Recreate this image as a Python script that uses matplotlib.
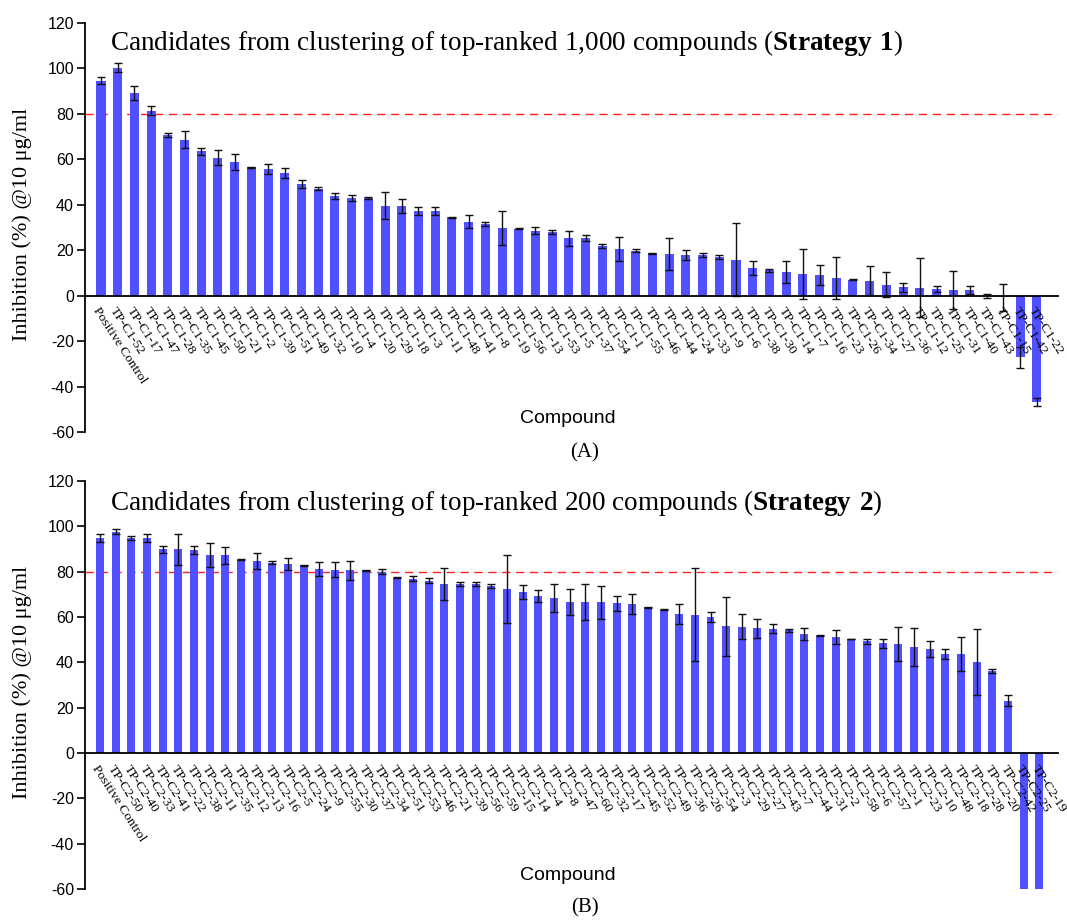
import numpy as np
import matplotlib
matplotlib.use("Agg")
import matplotlib.pyplot as plt

plt.rcParams['mathtext.fontset'] = 'custom'
plt.rcParams['mathtext.rm'] = 'Liberation Serif'
plt.rcParams['mathtext.bf'] = 'Liberation Serif:bold'

# ---------------- data ----------------
labels1 = ["Positive Control"] + ["TP-C1-%d" % n for n in [
    52, 17, 47, 28, 35, 45, 50, 21, 2, 39, 51, 49, 32, 10, 4, 20, 29, 18, 3, 11,
    48, 41, 8, 19, 56, 13, 53, 5, 37, 54, 1, 55, 46, 44, 24, 33, 9, 6, 38, 30,
    14, 7, 16, 23, 26, 34, 27, 36, 12, 25, 31, 40, 43, 15, 42, 22]]
vals1 = [94.6, 100.4, 89.2, 81.4, 70.9, 68.7, 63.6, 60.7, 58.8, 56.6,
         55.7, 54.2, 49.1, 47.1, 43.9, 43.0, 43.0, 39.6, 39.5, 37.3,
         37.3, 34.5, 32.6, 31.6, 29.7, 29.5, 28.5, 27.9,
         25.3, 25.3, 21.8, 20.5, 19.8, 18.6, 18.3, 17.9, 17.9, 17.1,
         15.8, 12.2, 11.1, 10.4, 9.5, 9.2, 7.8, 7.0, 6.6, 4.7,
         3.7, 3.4, 2.9, 2.6, 2.5, -0.3, -0.7, -27.1, -46.9]
errs1 = [1.6, 2.0, 3.0, 2.0, 0.9, 3.6, 1.5, 3.4, 3.4, 0.2,
         2.1, 2.2, 1.8, 0.7, 1.2, 1.5, 0.6, 5.9, 3.0, 1.9,
         1.9, 0.2, 3.0, 0.8, 7.5, 0.3, 1.5, 0.8,
         3.3, 1.3, 1.0, 5.2, 0.6, 0.2, 7.0, 2.1, 1.0, 0.8,
         16.0, 2.9, 0.5, 4.8, 11.0, 4.5, 9.2, 0.3, 6.3, 5.5,
         1.9, 13.0, 1.5, 8.4, 1.9, 0.9, 5.9, 4.6, 1.8]

labels2 = ["Positive Control"] + ["TP-C2-%d" % n for n in [
    50, 40, 33, 41, 22, 38, 11, 35, 12, 13, 16, 5, 24, 9, 55, 30, 37, 34, 51, 53,
    46, 21, 39, 56, 59, 15, 14, 4, 8, 47, 60, 32, 17, 45, 52, 49, 36, 26, 54, 3,
    29, 27, 43, 7, 44, 31, 2, 58, 6, 57, 1, 23, 10, 48, 18, 28, 20, 42, 25, 19]]
vals2 = [94.8, 97.6, 94.9, 94.8, 89.8, 89.8, 89.5, 87.3, 87.2, 85.3,
         84.7, 84.0, 83.4, 82.9, 81.2, 80.9, 80.7, 80.6, 80.0, 77.4,
         76.9, 76.0, 74.7, 74.6, 74.4, 73.7, 72.4, 71.1, 69.2, 68.3,
         66.8, 66.7, 66.4, 66.1, 65.8, 64.3, 63.2, 61.2, 61.1, 59.9,
         56.0, 55.8, 55.1, 54.8, 54.2, 52.6, 51.7, 51.1, 50.3, 49.2,
         48.4, 48.2, 46.9, 45.9, 43.7, 43.7, 40.1, 36.0, 23.1, -75.0, -80.0]
errs2 = [1.8, 1.1, 1.0, 1.8, 1.5, 7.0, 1.7, 5.4, 3.7, 0.2,
         3.5, 0.5, 2.6, 0.2, 2.9, 3.2, 4.2, 0.3, 1.0, 0.2,
         1.0, 1.0, 7.0, 0.9, 0.9, 0.9, 14.9, 3.2, 2.6, 6.2,
         5.7, 8.0, 7.2, 3.3, 4.3, 0.2, 0.2, 4.5, 20.4, 2.3,
         13.0, 5.4, 4.2, 2.0, 0.6, 2.6, 0.2, 3.0, 0.2, 1.0,
         1.9, 7.6, 8.4, 3.4, 2.3, 7.5, 14.5, 0.9, 2.3, 0.0, 0.0]

yticks = [-60, -40, -20, 0, 20, 40, 60, 80, 100, 120]
threshold = 80

titles = ["Candidates from clustering of top-ranked 1,000 compounds (" + r"$\mathbf{Strategy\ 1}$" + ")",
          "Candidates from clustering of top-ranked 200 compounds (" + r"$\mathbf{Strategy\ 2}$" + ")"]
panel_tags = ["(A)", "(B)"]
ylabel = "Inhibition (%) @10 μg/ml"
xlabel = "Compound"

# ---------------- figure ----------------
W, H = 1067, 923
fig = plt.figure(figsize=(W / 100, H / 100), dpi=100)

BAR_COLOR = '#5050ff'
SERIF = 'Liberation Serif'
SANS = 'Liberation Sans'


def px(x, y):
    return x / W, 1 - y / H


panels = [
    dict(labels=labels1, vals=vals1, errs=errs1, top=23, bot=432, width=0.54,
         xlim=(-0.957, 57.27), title_y=50, comp_y=418, tag_y=453),
    dict(labels=labels2, vals=vals2, errs=errs2, top=481, bot=889, width=0.51,
         xlim=(-0.96, 61.2), title_y=510, comp_y=875, tag_y=908),
]

left, right = 85, 1058
for i, p in enumerate(panels):
    ax = fig.add_axes([left / W, 1 - p['bot'] / H, (right - left) / W, (p['bot'] - p['top']) / H])
    x = np.arange(len(p['vals']))
    ax.bar(x, p['vals'], width=p['width'], color=BAR_COLOR, zorder=2)
    ax.errorbar(x, p['vals'], yerr=p['errs'], fmt='none', ecolor='#111111',
                elinewidth=1.0, capsize=2.6, capthick=1.0, zorder=3)
    ax.axhline(threshold, color='#ff2020', lw=1.0, dashes=(6, 4), zorder=1)
    ax.set_xlim(*p['xlim'])
    ax.set_ylim(-60, 120)
    ax.set_yticks(yticks)
    ax.set_yticklabels([str(t) for t in yticks], fontfamily=SANS, fontsize=11.5)
    ax.tick_params(axis='y', direction='out', length=6, width=1.2, pad=2)
    ax.spines['top'].set_visible(False)
    ax.spines['right'].set_visible(False)
    ax.spines['left'].set_linewidth(1.3)
    ax.spines['bottom'].set_position(('data', 0))
    ax.spines['bottom'].set_linewidth(1.3)
    ax.spines['bottom'].set_zorder(4)
    ax.set_xticks(x)
    ax.set_xticklabels(p['labels'], rotation=-57, ha='left', va='top',
                       rotation_mode='anchor', fontfamily=SERIF, fontsize=9.7)
    ax.tick_params(axis='x', length=0, pad=7)
    ax.xaxis.set_zorder(5)

    fig.text(*px(110, p['title_y']), titles[i], fontfamily=SERIF, fontsize=19.5,
             ha='left', va='baseline')
    fig.text(*px(568, p['comp_y']), xlabel, fontfamily=SANS, fontsize=14,
             ha='center', va='center')
    fig.text(*px(585, p['tag_y']), panel_tags[i], fontfamily=SERIF, fontsize=15,
             ha='center', va='center')
    fig.text(*px(22, (p['top'] + p['bot']) / 2 - 3), ylabel, fontfamily=SERIF,
             fontsize=16, rotation=90, ha='center', va='center')

fig.savefig("out.png", dpi=100)
